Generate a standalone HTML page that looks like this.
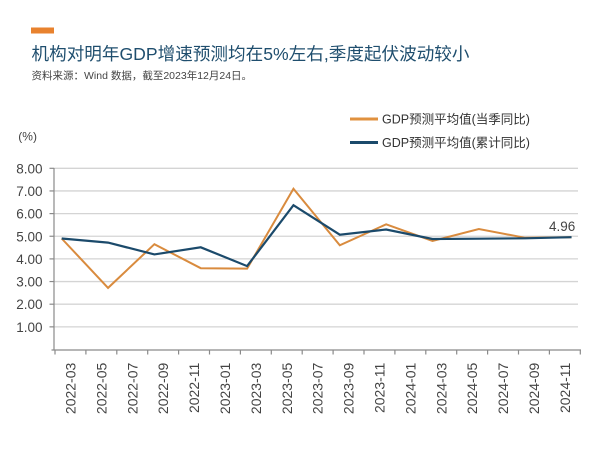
<!DOCTYPE html>
<html>
<head>
<meta charset="utf-8">
<style>
html,body{margin:0;padding:0;background:#fff;}
svg{display:block;}
text{font-family:"Liberation Sans","Noto Sans CJK SC",sans-serif;}
</style>
</head>
<body>
<svg width="600" height="458" viewBox="0 0 600 458" xmlns="http://www.w3.org/2000/svg">
<rect width="600" height="458" fill="#fff"/>
<!-- header -->
<rect x="31" y="27.5" width="23" height="6" fill="#e8822e"/>
<text x="31.5" y="60" font-size="17.5" fill="#1f4e6e" textLength="438" lengthAdjust="spacingAndGlyphs">机构对明年GDP增速预测均在5%左右,季度起伏波动较小</text>
<text x="31.5" y="79" font-size="10.5" fill="#444">资料来源：Wind 数据，截至2023年12月24日。</text>

<!-- legend -->
<line x1="350" y1="119" x2="378" y2="119" stroke="#e0913f" stroke-width="3"/>
<text x="382" y="123.5" font-size="12.5" fill="#333">GDP预测平均值(当季同比)</text>
<line x1="350" y1="142.5" x2="378" y2="142.5" stroke="#1b4a6b" stroke-width="3"/>
<text x="382" y="147" font-size="12.5" fill="#333">GDP预测平均值(累计同比)</text>

<text x="18.3" y="140.5" font-size="12" fill="#444">(%)</text>

<!-- gridlines -->
<g stroke="#d4d4d4" stroke-width="1.3">
<line x1="54" y1="168.3" x2="578" y2="168.3"/>
<line x1="54" y1="190.95" x2="578" y2="190.95"/>
<line x1="54" y1="213.6" x2="578" y2="213.6"/>
<line x1="54" y1="236.25" x2="578" y2="236.25"/>
<line x1="54" y1="258.9" x2="578" y2="258.9"/>
<line x1="54" y1="281.55" x2="578" y2="281.55"/>
<line x1="54" y1="304.2" x2="578" y2="304.2"/>
<line x1="54" y1="326.85" x2="578" y2="326.85"/>
</g>
<!-- axes -->
<g stroke="#8a8a8a" stroke-width="1.2">
<line x1="54" y1="168" x2="54" y2="350"/>
<line x1="51.5" y1="350" x2="581" y2="350"/>
<line x1="49.5" y1="168.3" x2="54" y2="168.3"/>
<line x1="49.5" y1="190.95" x2="54" y2="190.95"/>
<line x1="49.5" y1="213.6" x2="54" y2="213.6"/>
<line x1="49.5" y1="236.25" x2="54" y2="236.25"/>
<line x1="49.5" y1="258.9" x2="54" y2="258.9"/>
<line x1="49.5" y1="281.55" x2="54" y2="281.55"/>
<line x1="49.5" y1="304.2" x2="54" y2="304.2"/>
<line x1="49.5" y1="326.85" x2="54" y2="326.85"/>
</g>
<g stroke="#8a8a8a" stroke-width="1.2">
<line x1="55" y1="350" x2="55" y2="354.5"/>
<line x1="85.9" y1="350" x2="85.9" y2="354.5"/>
<line x1="116.8" y1="350" x2="116.8" y2="354.5"/>
<line x1="147.7" y1="350" x2="147.7" y2="354.5"/>
<line x1="178.6" y1="350" x2="178.6" y2="354.5"/>
<line x1="209.5" y1="350" x2="209.5" y2="354.5"/>
<line x1="240.4" y1="350" x2="240.4" y2="354.5"/>
<line x1="271.3" y1="350" x2="271.3" y2="354.5"/>
<line x1="302.2" y1="350" x2="302.2" y2="354.5"/>
<line x1="333.1" y1="350" x2="333.1" y2="354.5"/>
<line x1="364" y1="350" x2="364" y2="354.5"/>
<line x1="394.9" y1="350" x2="394.9" y2="354.5"/>
<line x1="425.8" y1="350" x2="425.8" y2="354.5"/>
<line x1="456.7" y1="350" x2="456.7" y2="354.5"/>
<line x1="487.6" y1="350" x2="487.6" y2="354.5"/>
<line x1="518.5" y1="350" x2="518.5" y2="354.5"/>
<line x1="549.4" y1="350" x2="549.4" y2="354.5"/>
<line x1="580.3" y1="350" x2="580.3" y2="354.5"/>
</g>

<!-- y labels -->
<g font-size="13.5" fill="#444" text-anchor="end">
<text x="42.5" y="173.3">8.00</text>
<text x="42.5" y="195.95">7.00</text>
<text x="42.5" y="218.6">6.00</text>
<text x="42.5" y="241.25">5.00</text>
<text x="42.5" y="263.9">4.00</text>
<text x="42.5" y="286.55">3.00</text>
<text x="42.5" y="309.2">2.00</text>
<text x="42.5" y="331.85">1.00</text>
</g>

<!-- x labels -->
<g font-size="14" fill="#444" text-anchor="end">
<text transform="translate(75.5,362.7) rotate(-90)">2022-03</text>
<text transform="translate(106.4,362.7) rotate(-90)">2022-05</text>
<text transform="translate(137.3,362.7) rotate(-90)">2022-07</text>
<text transform="translate(168.2,362.7) rotate(-90)">2022-09</text>
<text transform="translate(199.1,362.7) rotate(-90)">2022-11</text>
<text transform="translate(230,362.7) rotate(-90)">2023-01</text>
<text transform="translate(260.9,362.7) rotate(-90)">2023-03</text>
<text transform="translate(291.8,362.7) rotate(-90)">2023-05</text>
<text transform="translate(322.7,362.7) rotate(-90)">2023-07</text>
<text transform="translate(353.6,362.7) rotate(-90)">2023-09</text>
<text transform="translate(384.5,362.7) rotate(-90)">2023-11</text>
<text transform="translate(415.4,362.7) rotate(-90)">2024-01</text>
<text transform="translate(446.3,362.7) rotate(-90)">2024-03</text>
<text transform="translate(477.2,362.7) rotate(-90)">2024-05</text>
<text transform="translate(508.1,362.7) rotate(-90)">2024-07</text>
<text transform="translate(539,362.7) rotate(-90)">2024-09</text>
<text transform="translate(569.9,362.7) rotate(-90)">2024-11</text>
</g>

<!-- series -->
<polyline fill="none" stroke="#d98b3e" stroke-width="2" stroke-linejoin="miter"
 points="61.7,238.5 108.05,287.9 154.4,244.2 200.75,268.2 247.1,268.6 293.45,188.7 339.8,245.3 386.15,224.3 432.5,241.0 478.85,229.0 525.2,237.8 571.55,237.2"/>
<polyline fill="none" stroke="#1b4a6b" stroke-width="2.2" stroke-linejoin="miter"
 points="61.7,238.5 108.05,242.6 154.4,254.4 200.75,247.3 247.1,266.1 293.45,205.2 339.8,234.7 386.15,229.5 432.5,239.0 478.85,238.7 525.2,238.3 571.55,237.2"/>

<text x="549" y="231" font-size="13.5" fill="#444">4.96</text>
</svg>
</body>
</html>
